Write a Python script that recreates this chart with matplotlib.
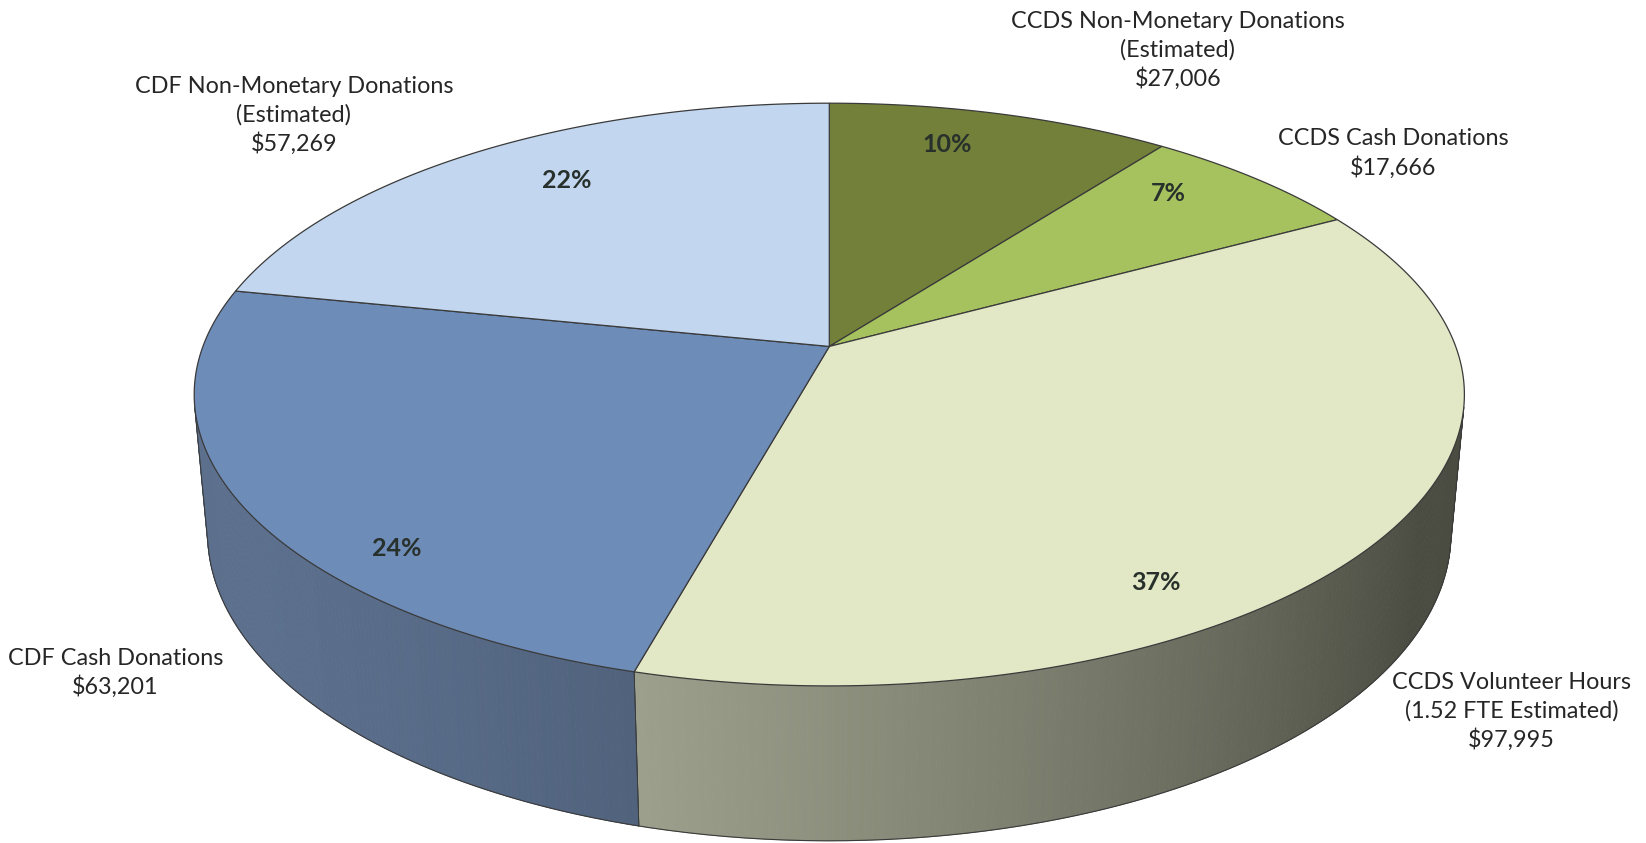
import numpy as np
import matplotlib
matplotlib.use("Agg")
import matplotlib.pyplot as plt
from matplotlib.patches import Polygon
from matplotlib.colors import to_rgb

# ---------------- data ----------------
categories = ["CCDS Non-Monetary Donations\n(Estimated)",
              "CCDS Cash Donations",
              "CCDS Volunteer Hours\n(1.52 FTE Estimated)",
              "CDF Cash Donations",
              "CDF Non-Monetary Donations\n(Estimated)"]
values = [27006, 17666, 97995, 63201, 57269]
top_colors = ["#72803a", "#a6c25e", "#e2e7c5", "#6e8cb8", "#c2d7ef"]

# ---------------- layout (pixel space of the 1568x803 view) ----------------
W, H = 1568, 803
label_pos = [(1122, 48), (1327, 146), (1440, 678), (110, 641), (280, 110)]
pct_pos = [(902, 138), (1113, 184), (1101, 555), (378, 522), (540, 172)]

plt.rcParams['font.family'] = ['Lato', 'DejaVu Sans']
fig = plt.figure(figsize=(16.46, 8.43), dpi=100)
ax = fig.add_axes([0, 0, 1, 1])
ax.set_xlim(0, W)
ax.set_ylim(H, 0)
ax.axis('off')

# perspective camera
theta = np.radians(26.9)
s, c = np.sin(theta), np.cos(theta)
D = 5.4
cx, cy = 790, 330
depth = 0.25
yy = np.linspace(-1, 1, 4001)
f = 605 / np.max(np.sqrt(1 - yy**2) / (D + yy * c))


def proj(x, y, z):
    yc = y * s + z * c
    zc = D + y * c - z * s
    return cx + f * x / zc, cy - f * yc / zc


def arc(a0, a1, z, n):
    a = np.radians(np.linspace(a0, a1, n))
    return np.column_stack(proj(np.cos(a), np.sin(a), z))


total = float(sum(values))
bounds = 90 - 360 * np.concatenate([[0], np.cumsum(values)]) / total
alpha = np.degrees(np.arcsin(1 / (D * c)))
vis_lo, vis_hi = -180 + alpha, -alpha
L = np.array([-0.9, -0.43])
edge = "#3a3a3a"

# side walls (shaded strips)
for k in range(len(values)):
    a_hi, a_lo = bounds[k], bounds[k + 1]
    lo, hi = max(a_lo, vis_lo), min(a_hi, vis_hi)
    if hi <= lo:
        continue
    n = max(int((hi - lo) * 2), 2)
    angs = np.linspace(lo, hi, n + 1)
    base = np.array(to_rgb(top_colors[k]))
    gray = base.mean()
    base = 0.85 * base + 0.15 * gray
    for i in range(n):
        m = np.radians(0.5 * (angs[i] + angs[i + 1]))
        shade = 0.5 + 0.3 * (np.cos(m) * L[0] + np.sin(m) * L[1])
        shade = max(shade, 0.33)
        col = np.clip(base * shade, 0, 1)
        top = arc(angs[i], angs[i + 1], 0, 2)
        bot = arc(angs[i + 1], angs[i], -depth, 2)
        ax.add_patch(Polygon(np.vstack([top, bot]), closed=True, facecolor=col,
                             edgecolor=col, linewidth=0.6, zorder=1))
    # divider line on the wall
    for a in (a_lo, a_hi):
        if vis_lo < a < vis_hi:
            p0 = proj(np.cos(np.radians(a)), np.sin(np.radians(a)), 0)
            p1 = proj(np.cos(np.radians(a)), np.sin(np.radians(a)), -depth)
            ax.plot([p0[0], p1[0]], [p0[1], p1[1]], color=edge, lw=0.6, zorder=2)

# wall outline
bottom = arc(vis_lo, vis_hi, -depth, 300)
ax.plot(bottom[:, 0], bottom[:, 1], color=edge, lw=0.8, zorder=2)
for a in (vis_lo, vis_hi):
    p0 = proj(np.cos(np.radians(a)), np.sin(np.radians(a)), 0)
    p1 = proj(np.cos(np.radians(a)), np.sin(np.radians(a)), -depth)
    ax.plot([p0[0], p1[0]], [p0[1], p1[1]], color=edge, lw=0.8, zorder=2)

# top faces
apex = proj(0, 0, 0)
for k in range(len(values)):
    pts = arc(bounds[k], bounds[k + 1], 0, 200)
    poly = np.vstack([[apex], pts])
    ax.add_patch(Polygon(poly, closed=True, facecolor=top_colors[k],
                         edgecolor=edge, linewidth=0.9, zorder=3))

# labels
for k, (lab, v) in enumerate(zip(categories, values)):
    x, y = label_pos[k]
    ax.text(x, y, f"{lab}\n${v:,}", ha='center', va='center', fontsize=16.8,
            color='#262626', linespacing=1.38, zorder=5)
    px, py = pct_pos[k]
    ax.text(px, py, f"{round(100 * v / total)}%", ha='center', va='center',
            fontsize=18, fontweight='bold', color='#28302c', zorder=5)

fig.savefig("out.png", dpi=100, facecolor='white')
